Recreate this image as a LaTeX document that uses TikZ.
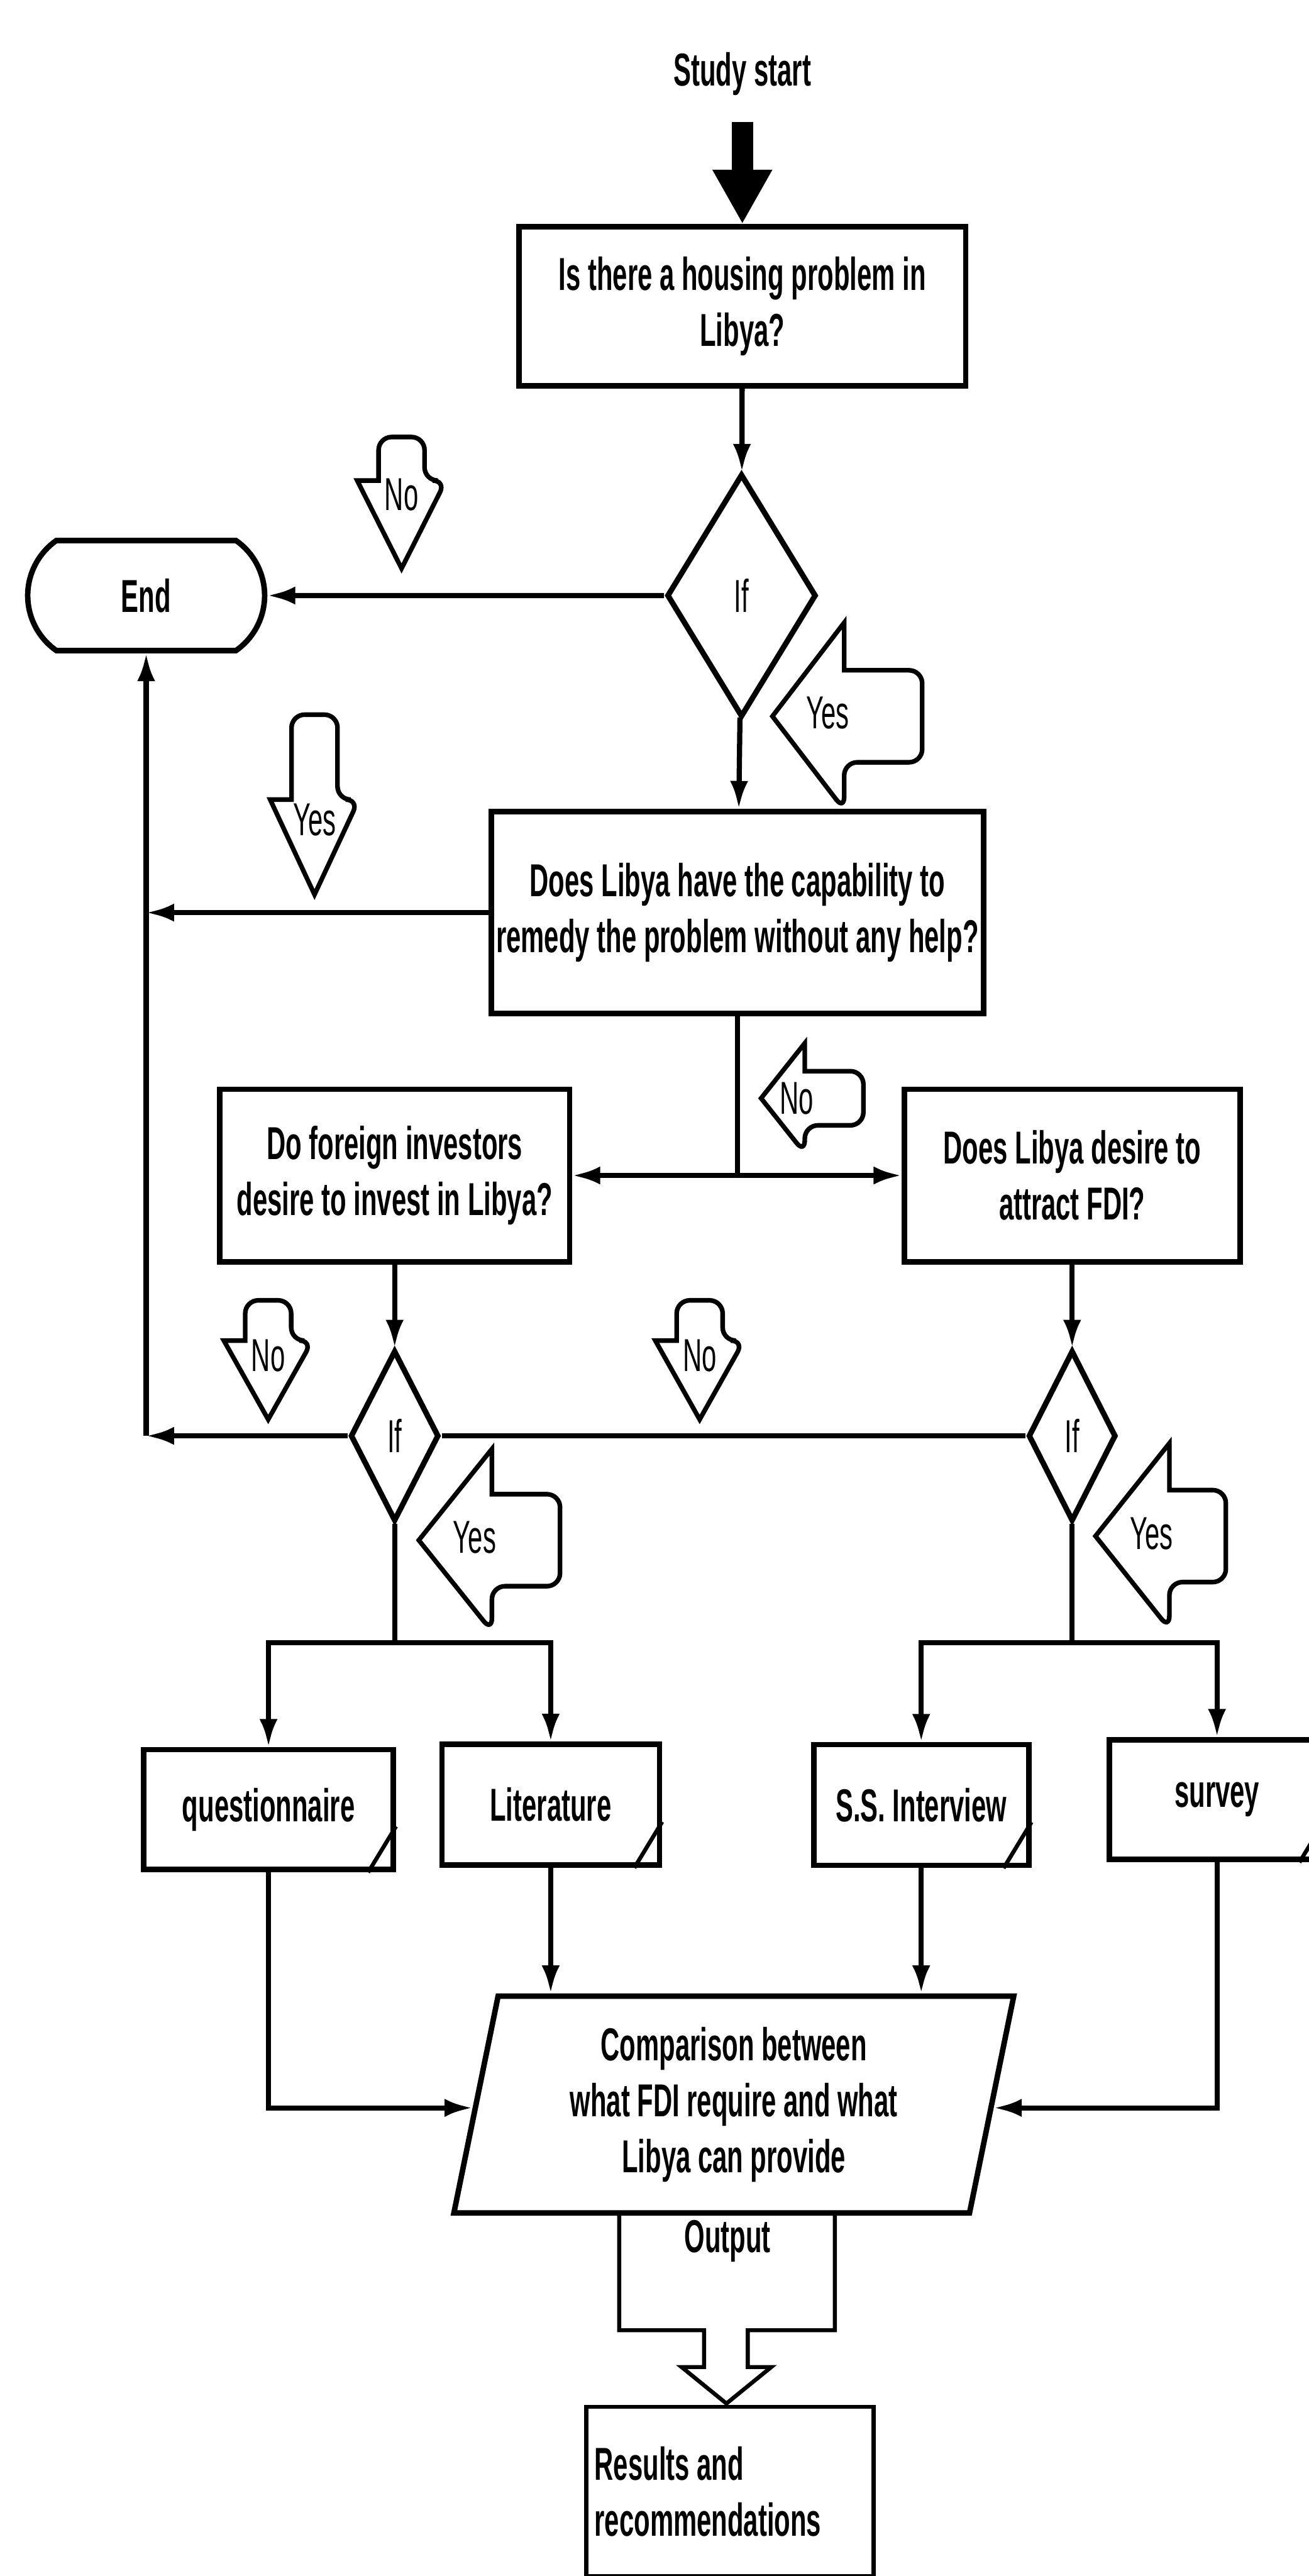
\documentclass[tikz,border=0pt]{standalone}
\usepackage{fontspec}
\setmainfont[FakeStretch=0.57]{Liberation Sans}
\usetikzlibrary{shapes.geometric,shapes.misc,arrows.meta,calc}

% down and left pointing label arrows
\newcommand\downcall[4]{%
  \draw[tagarrow] (#1,#2) -- (#1-27,#3) -- (#1-14,#3) [rounded corners=1.6mm]
    -- (#1-14,#4) -- (#1+14,#4) -- (#1+14,#3) -- (#1+27,#3) [sharp corners] -- cycle;}
\newcommand\leftcall[6]{%
  \draw[tagarrow] (#1,#2) -- (#3,#2-#5) -- (#3,#2-#6) [rounded corners=1.6mm]
    -- (#4,#2-#6) -- (#4,#2+#6) -- (#3,#2+#6) -- (#3,#2+#5) [sharp corners] -- cycle;}

\begin{document}
\begin{tikzpicture}[x=0.02cm, y=-0.02cm,
    font=\fontsize{16}{19.4}\selectfont\bfseries,
    box/.style={draw, line width=1.9pt, align=center, inner sep=1pt},
    dec/.style={draw, diamond, line width=1.9pt, inner sep=0pt,
      font=\fontsize{16}{19.4}\selectfont\mdseries},
    tagarrow/.style={line width=1.6pt},
    tag/.style={inner sep=0pt, font=\fontsize{16}{19.4}\selectfont\mdseries},
    flow/.style={line width=1.8pt, -{Latex[length=3.4mm 0 1, width=2.2mm 0 1]}},
    link/.style={line width=1.8pt}]
  \useasboundingbox (0,0) rectangle (797,1568);

  \node (start) at (452,45) {Study start};
  \node[box, minimum width=5.44cm, minimum height=1.94cm] (house) at (452,186.5)
    {Is there a housing problem in\\Libya?};
  \node[dec, minimum width=1.82cm, minimum height=2.96cm] (if1) at (451.5,362.5) {If};
  \node[draw, rounded rectangle, rounded rectangle arc length=110, line width=1.9pt,
    minimum width=3.12cm, minimum height=1.34cm] (end) at (89,362.5) {End};
  \node[box, minimum width=6cm, minimum height=2.46cm] (able) at (449,555.5)
    {Does Libya have the capability to\\remedy the problem without any help?};
  \node[box, minimum width=4.26cm, minimum height=2.1cm] (invest) at (240.3,715.5)
    {Do foreign investors\\desire to invest in Libya?};
  \node[box, minimum width=4.09cm, minimum height=2.1cm] (attract) at (652.8,715.5)
    {Does Libya desire to\\attract FDI?};
  \node[dec, minimum width=1.08cm, minimum height=2.08cm] (if2) at (240.3,874) {If};
  \node[dec, minimum width=1.07cm, minimum height=2.08cm] (if3) at (652.8,874) {If};
  \node[box, minimum width=3.04cm, minimum height=1.46cm] (quest) at (163.5,1101.5) {questionnaire};
  \node[box, minimum width=2.65cm, minimum height=1.47cm] (lit) at (335.3,1098.5) {Literature};
  \node[box, minimum width=2.62cm, minimum height=1.47cm] (inter) at (560.9,1098.7) {S.S. Interview};
  \node[box, minimum width=2.62cm, minimum height=1.46cm] (survey) at (741,1095.4) {survey};
  \node[draw, trapezium, trapezium left angle=79, trapezium right angle=101,
    trapezium stretches=true, line width=1.9pt, minimum width=6.83cm,
    minimum height=2.64cm, align=center, inner sep=1pt] (comp) at (446.8,1281)
    {Comparison between\\what FDI require and what\\Libya can provide};
  \node[draw, line width=1.4pt, text width=3.3cm, inner xsep=0.1cm,
    minimum height=2.06cm, align=flush left] (res) at (444.5,1516.5)
    {Results and\\recommendations};

  \coordinate (j1) at (449,715.5);
  \coordinate (l1) at (89,555.5);
  \coordinate (l2) at (89,874);
  \coordinate (j2) at (240.3,1000);
  \coordinate (j3) at (652.8,1000);
  \coordinate (cl) at ($(comp.bottom left corner)!0.485!(comp.top left corner)$);
  \coordinate (cr) at ($(comp.bottom right corner)!0.485!(comp.top right corner)$);

  \draw[line width=2.6mm, -{Triangle[length=6.6mm 0 1, width=6.8mm 0 1]},
    shorten <=2mm] (start) -- (house);
  \draw[flow] (house) -- (if1);
  \draw[flow] (if1) -- (end);
  \draw[flow] (if1) -- (able);
  \draw[flow] (able.west) -- (l1);
  \draw[flow] (l2) -- (end.south);
  \draw[link] (able) -- (j1);
  \draw[flow] (j1) -- (invest);
  \draw[flow] (j1) -- (attract);
  \draw[flow] (invest) -- (if2);
  \draw[flow] (attract) -- (if3);
  \draw[link] (if3.west) -- (if2.east);
  \draw[flow] (if2.west) -- (l2);
  \draw[link] (if2) -- (j2);
  \draw[link] (if3) -- (j3);
  \draw[flow] (j2) -| (quest);
  \draw[flow] (j2) -| (lit);
  \draw[flow] (j3) -| (inter);
  \draw[flow] (j3) -| (survey);
  \draw[flow] (quest) |- (cl);
  \draw[flow] (lit) -- (lit |- comp.north);
  \draw[flow] (inter) -- (inter |- comp.north);
  \draw[flow] (survey) |- (cr);

  % folded corners
  \foreach \n in {quest,lit,inter,survey}
    \draw[line width=1.4pt] ($(\n.south east)+(-17,0)$) -- ++(17,-28);

  % output arrow
  \draw[line width=1.4pt] (377,1347) -- (377,1418.4) -- (428.7,1418.4) -- (428.7,1440.8)
    -- (415,1440.8) -- (442.3,1463) -- (469.6,1440.8) -- (455.3,1440.8)
    -- (455.3,1418.4) -- (508.3,1418.4) -- (508.3,1347);
  \node (out) at (443,1364) {Output};

  % yes / no labels
  \downcall{244.5}{346}{292.5}{266}
  \node[tag] (no1) at (244.5,301) {No};
  \downcall{191.5}{544.5}{486.7}{435}
  \node[tag] (yes1) at (191.5,499) {Yes};
  \downcall{163.3}{864}{816}{791.5}
  \node[tag] (no3) at (163.3,825) {No};
  \downcall{426}{864}{816}{791.5}
  \node[tag] (no4) at (426,825) {No};
  \leftcall{470.3}{436}{514}{561.5}{57}{28}
  \node[tag] (yes2) at (504,434) {Yes};
  \leftcall{463.4}{668.5}{490}{525.7}{33.5}{16.5}
  \node[tag] (no2) at (485,668.5) {No};
  \leftcall{255}{937.5}{299.5}{341}{55.5}{28}
  \node[tag] (yes3) at (289,936) {Yes};
  \leftcall{667}{935}{712}{746.4}{56.5}{28}
  \node[tag] (yes4) at (701,933.5) {Yes};
\end{tikzpicture}
\end{document}
